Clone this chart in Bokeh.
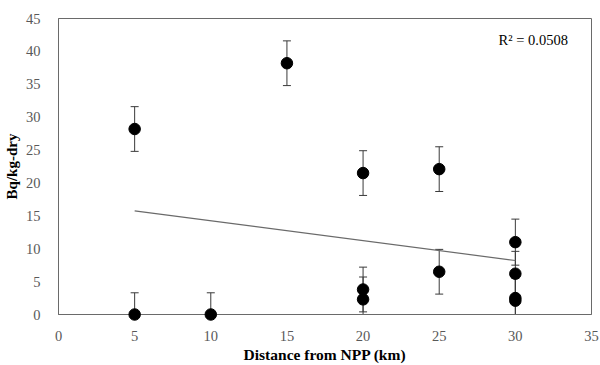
import numpy as np
from bokeh.plotting import figure
from bokeh.models import ColumnDataSource, Range1d, Label, FixedTicker
from bokeh.embed import file_html
from bokeh.resources import INLINE

# data
distance_km = [5, 5, 10, 15, 20, 20, 20, 25, 25, 30, 30, 30, 30]
bq_per_kg = [28.2, 0.0, 0.0, 38.2, 21.5, 3.8, 2.3, 22.1, 6.5, 11.0, 6.2, 2.5, 2.1]
error = [3.4, 3.3, 3.3, 3.4, 3.4, 3.4, 3.4, 3.4, 3.4, 3.5, 3.4, 3.4, 3.4]
x_ticks = [0, 5, 10, 15, 20, 25, 30, 35]
y_ticks = [0, 5, 10, 15, 20, 25, 30, 35, 40, 45]

x = np.array(distance_km, dtype=float)
y = np.array(bq_per_kg, dtype=float)
e = np.array(error, dtype=float)

src = ColumnDataSource(dict(x=x, y=y, up=y + e, lo=y - e))

p = figure(width=600, height=365, output_backend="svg", toolbar_location=None,
           x_range=Range1d(0, 35), y_range=Range1d(0, 45))
p.min_border_left = 57
p.min_border_right = 9
p.min_border_top = 18
p.min_border_bottom = 50
p.background_fill_color = "white"
p.border_fill_color = "white"
p.outline_line_color = "#6a6a6a"
p.outline_line_width = 1
p.grid.visible = False

for ax in (p.xaxis[0], p.yaxis[0]):
    ax.major_tick_line_color = None
    ax.minor_tick_line_color = None
    ax.axis_line_color = "#6a6a6a"
    ax.major_label_text_font = "Liberation Serif"
    ax.major_label_text_font_size = "14.5px"
    ax.major_label_text_color = "#595959"
    ax.axis_label_text_font = "Liberation Serif"
    ax.axis_label_text_font_style = "bold"
    ax.axis_label_text_color = "black"

p.xaxis.axis_label_text_font_size = "15.5px"
p.yaxis.axis_label_text_font_size = "15px"
p.xaxis.ticker = FixedTicker(ticks=x_ticks)
p.yaxis.ticker = FixedTicker(ticks=y_ticks)
p.xaxis.axis_label = "Distance from NPP (km)"
p.yaxis.axis_label = "Bq/kg-dry"
p.xaxis.major_label_standoff = 10
p.yaxis.major_label_standoff = 12
p.xaxis.axis_label_standoff = 2
p.yaxis.axis_label_standoff = 3

# error bars
p.segment(x0="x", y0="lo", x1="x", y1="up", source=src, line_color="#3a3a3a", line_width=1)
p.scatter(x="x", y="up", source=src, marker="dash", size=8, line_color="#3a3a3a", line_width=1)
p.scatter(x="x", y="lo", source=src, marker="dash", size=8, line_color="#3a3a3a", line_width=1)

# linear trendline
slope, intercept = np.polyfit(x, y, 1)
xt = np.array([x.min(), x.max()])
p.line(xt, slope * xt + intercept, line_color="#6a6a6a", line_width=1.2)
r2 = np.corrcoef(x, y)[0, 1] ** 2

# points
p.scatter(x="x", y="y", source=src, size=11.5, fill_color="black", line_color="black", level="overlay")

p.add_layout(Label(x=28.9, y=41.7, text=f"R² = {r2:.4f}", text_font="Liberation Serif",
                   text_font_size="14.5px", text_color="black", text_baseline="middle"))

open("out.html", "w").write(file_html(p, INLINE))
